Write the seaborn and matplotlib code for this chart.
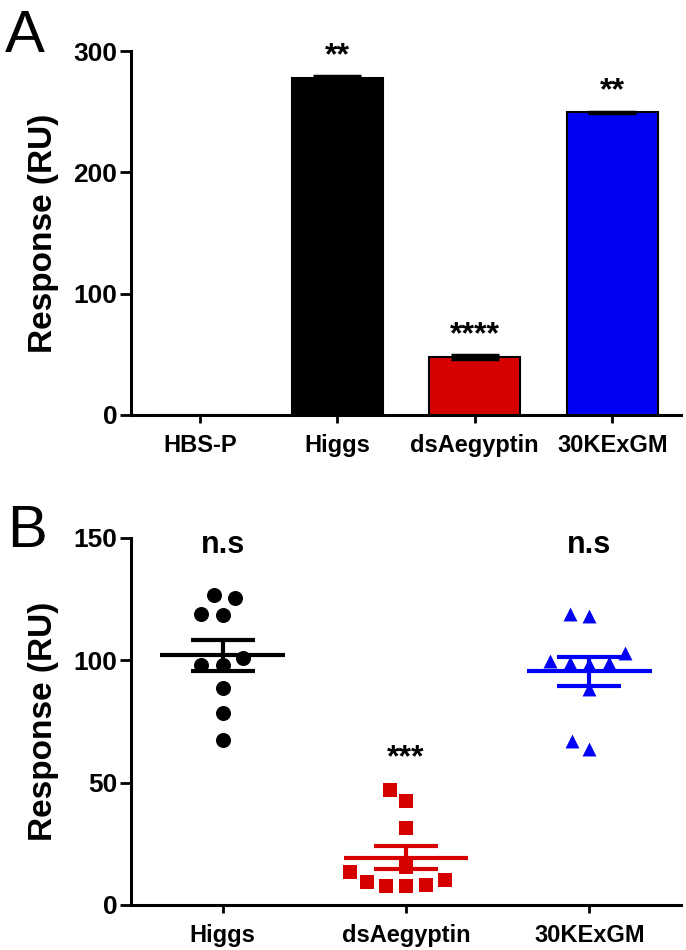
import matplotlib
matplotlib.use('Agg')
import matplotlib.pyplot as plt
import numpy as np
import pandas as pd
import seaborn as sns

# panel A: summary values
cats_a = ['HBS-P', 'Higgs', 'dsAegyptin', '30KExGM']
resp_a = [0.0, 277.5, 48.0, 249.5]
err_a = [0.0, 2.0, 1.5, 0.5]
sig_a = ['', '**', '****', '**']

# panel B: individual responses
cats_b = ['Higgs', 'dsAegyptin', '30KExGM']
higgs_b = [125.3, 126.9, 118.5, 118.9, 100.8, 98.1, 98.1, 88.5, 78.3, 67.4]
dsaeg_b = [47.0, 42.6, 31.3, 15.7, 13.4, 10.2, 8.2, 7.8, 7.9, 9.5]
kexgm_b = [118.9, 118.1, 103.1, 99.8, 98.7, 98.7, 98.5, 88.1, 63.6, 67.0]
sig_b = ['n.s', '***', 'n.s']
sig_b_y = [143.8, 56.8, 143.8]

colors = ['black', '#D70000', '#0000F5']
markers = ['o', 's', '^']
msizes = [10.8, 10.0, 10.0]

sns.set_style('ticks')
plt.rcParams['font.family'] = ['Liberation Sans', 'DejaVu Sans']
plt.rcParams['font.weight'] = 'bold'
plt.rcParams['text.color'] = 'black'
plt.rcParams['axes.labelcolor'] = 'black'

fig = plt.figure(figsize=(6.86, 9.5), dpi=100)
axA = fig.add_axes([0.191, 0.5632, 0.8017, 0.3831])
axB = fig.add_axes([0.191, 0.0474, 0.8017, 0.3863])


def style_axis(ax):
    for s in ['top', 'right']:
        ax.spines[s].set_visible(False)
    for s in ['left', 'bottom']:
        ax.spines[s].set_linewidth(2.2)
        ax.spines[s].set_color('black')
    ax.tick_params(axis='y', length=8, width=2, pad=2, labelsize=19, colors='black')
    ax.tick_params(axis='x', length=6, width=2, pad=8, labelsize=17, colors='black')
    for lab in ax.get_xticklabels() + ax.get_yticklabels():
        lab.set_fontweight('bold')
    ax.set_xlabel('')
    ax.set_ylabel('Response (RU)', fontsize=24, fontweight='bold', color='black')
    ax.yaxis.set_label_coords(-0.131, 0.5)


# ---- panel A ----
df_a = pd.DataFrame({'group': cats_a, 'resp': resp_a})
sns.barplot(data=df_a, x='group', y='resp', hue='group', order=cats_a,
            palette=['white'] + colors, saturation=1, width=0.665,
            edgecolor='black', linewidth=1.5, legend=False, ax=axA)
idx = np.arange(len(cats_a))
m = np.array(err_a) > 0
axA.errorbar(idx[m], np.array(resp_a)[m], yerr=np.array(err_a)[m], fmt='none',
             ecolor='black', elinewidth=2, capsize=17, capthick=2.5, zorder=5)
for i, (v, e, s) in enumerate(zip(resp_a, err_a, sig_a)):
    if s:
        axA.text(i, v + e + 10, s, ha='center', va='baseline', fontsize=23,
                 fontweight='bold', clip_on=False)
axA.set_xlim(-0.5, 3.5)
axA.set_ylim(0, 300)
axA.set_yticks([0, 100, 200, 300])
style_axis(axA)

# ---- panel B ----
series_b = [higgs_b, dsaeg_b, kexgm_b]
df_b = pd.DataFrame({'group': np.repeat(cats_b, [len(s) for s in series_b]),
                     'resp': np.concatenate(series_b)})
swarm_colls = []
for g, c, mk, ms in zip(cats_b, colors, markers, msizes):
    # lay the swarm out a bit looser than the marker size, like the original
    n_before = len(axB.collections)
    sns.swarmplot(data=df_b[df_b['group'] == g], x='group', y='resp', order=cats_b,
                  color=c, marker=mk, size=ms * 1.35, linewidth=0, ax=axB, zorder=3)
    swarm_colls += [(coll, ms) for coll in axB.collections[n_before:]]

for i, (vals, c) in enumerate(zip(series_b, colors)):
    vals = np.array(vals)
    mean = vals.mean()
    sem = vals.std(ddof=1) / np.sqrt(len(vals))
    axB.hlines(mean, i - 0.34, i + 0.34, color=c, linewidth=3, zorder=4)
    axB.hlines([mean - sem, mean + sem], i - 0.175, i + 0.175, color=c,
               linewidth=3, zorder=4)
    axB.vlines(i, mean - sem, mean + sem, color=c, linewidth=3, zorder=4)

for i, (s, y) in enumerate(zip(sig_b, sig_b_y)):
    axB.text(i, y, s, ha='center', va='baseline',
             fontsize=22 if s == 'n.s' else 23, fontweight='bold', clip_on=False)
axB.set_xlim(-0.5, 2.5)
axB.set_ylim(0, 150)
axB.set_yticks([0, 50, 100, 150])
style_axis(axB)

fig.text(0.007, 1 - 52 / 950, 'A', fontsize=43, fontweight='normal', va='baseline')
fig.text(0.010, 1 - 547 / 950, 'B', fontsize=43, fontweight='normal', va='baseline')

# run the swarm layout once, then freeze it and shrink the markers
fig.canvas.draw()
for coll, ms in swarm_colls:
    if 'draw' in coll.__dict__:
        del coll.draw
    coll.set_sizes([ms ** 2])

fig.savefig('out.png', dpi=100)
